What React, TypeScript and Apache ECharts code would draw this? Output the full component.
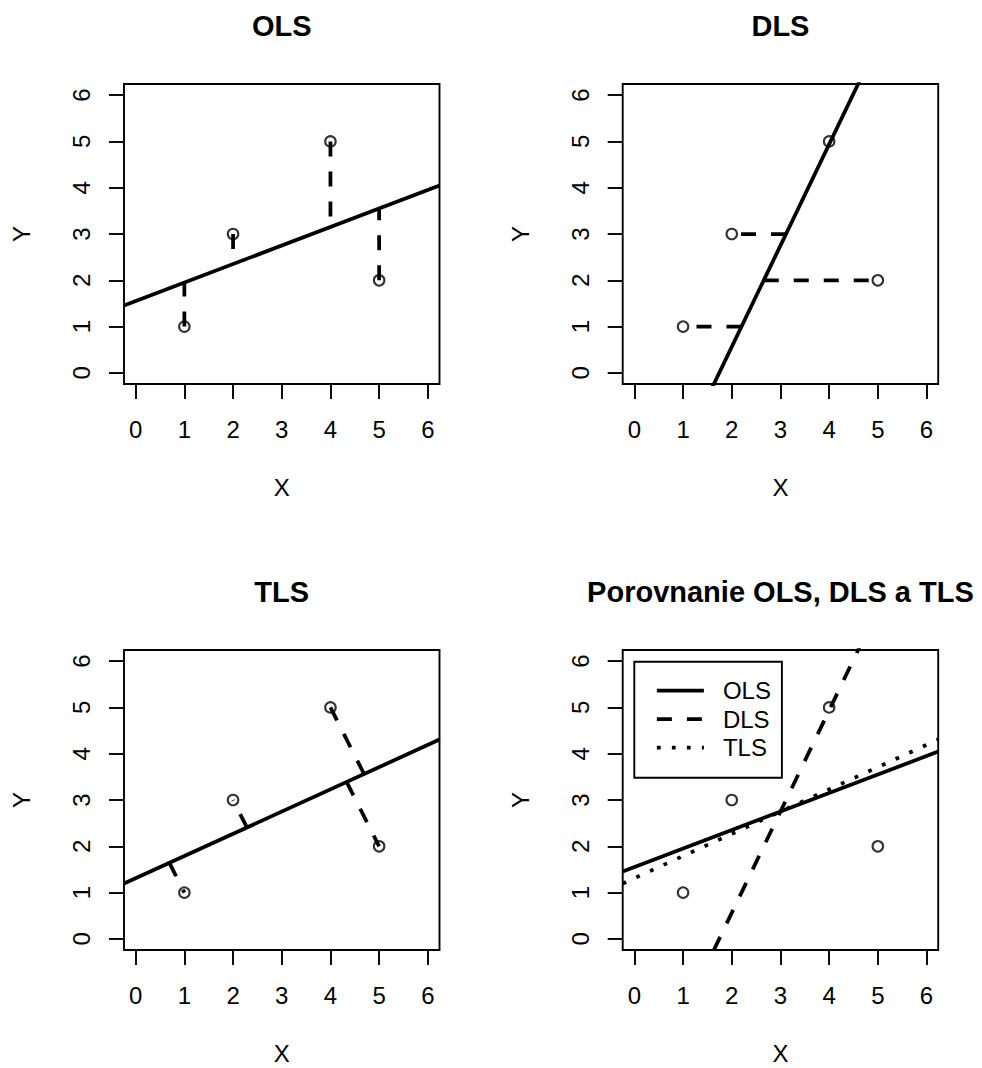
import React, { useEffect, useRef } from 'react';
import * as echarts from 'echarts';

// ---------- data ----------
const pointsX = [1, 2, 4, 5];
const pointsY = [1, 3, 5, 2];
const tickValues = [0, 1, 2, 3, 4, 5, 6];
const axisRange = [-0.24, 6.24];
// [intercept, slope] of each fitted line
const olsCoef = [1.55, 0.4];
const dlsCoef = [-3.8125, 2.1875];
const tlsCoef = [1.31, 0.48];
const panelTitles = ['OLS', 'DLS', 'TLS', 'Porovnanie OLS, DLS a TLS'];
const legendNames = ['OLS', 'DLS', 'TLS'];

// ---------- style ----------
const FONT = '"Liberation Sans", Arial, Helvetica, sans-serif';
const BLACK = '#000';
const LW = 3.75;
const FRAME_W = 1.9;
const DASHED = [15, 15];
const DOTTED = [3.75, 11.25];
const PW = 315.5;
const PH = 300;
const panels = [
  { left: 124, top: 84 },
  { left: 622.7, top: 84 },
  { left: 124, top: 650 },
  { left: 622.7, top: 650 },
];

const lineAt = (coef: number[], x: number) => coef[0] + coef[1] * x;
const fullLine = (coef: number[]) => axisRange.map((x) => [x, lineAt(coef, x)]);

const olsSegments = pointsX.map((x, i) => [
  [x, pointsY[i]],
  [x, lineAt(olsCoef, x)],
]);
const dlsSegments = pointsX.map((x, i) => [
  [(pointsY[i] - dlsCoef[0]) / dlsCoef[1], pointsY[i]],
  [x, pointsY[i]],
]);
const tlsSegments = pointsX.map((x, i) => {
  const [a, b] = tlsCoef;
  const fx = (x + b * (pointsY[i] - a)) / (1 + b * b);
  return [
    [fx, lineAt(tlsCoef, fx)],
    [x, pointsY[i]],
  ];
});

function lineSeries(name: string, gridIndex: number, data: number[][], dash: any) {
  return {
    type: 'line',
    name,
    xAxisIndex: gridIndex,
    yAxisIndex: gridIndex,
    data,
    symbol: 'none',
    showSymbol: false,
    clip: true,
    silent: true,
    itemStyle: { color: BLACK },
    lineStyle: { color: BLACK, width: LW, type: dash, cap: 'butt' },
    emphasis: { disabled: true },
    z: 3,
  };
}

function scatterSeries(gridIndex: number) {
  return {
    type: 'scatter',
    name: 'points' + gridIndex,
    xAxisIndex: gridIndex,
    yAxisIndex: gridIndex,
    data: pointsX.map((x, i) => [x, pointsY[i]]),
    symbol: 'circle',
    symbolSize: 10.5,
    silent: true,
    itemStyle: { color: 'rgba(0,0,0,0)', borderColor: BLACK, borderWidth: 2.1 },
    emphasis: { disabled: true },
    z: 2,
  };
}

export default function App() {
  const ref = useRef<HTMLDivElement>(null);
  useEffect(() => {
    if (!ref.current) return;
    const chart = echarts.init(ref.current, undefined, { renderer: 'svg' });

    const grid = panels.map((p) => ({
      left: p.left,
      top: p.top,
      width: PW,
      height: PH,
      show: true,
      borderColor: BLACK,
      borderWidth: FRAME_W,
      backgroundColor: 'transparent',
      containLabel: false,
    }));

    const xAxis = panels.map((_, i) => ({
      type: 'value',
      gridIndex: i,
      position: 'bottom',
      min: axisRange[0],
      max: axisRange[1],
      axisLine: { show: false, onZero: false },
      axisTick: {
        show: true,
        customValues: tickValues,
        length: 15,
        lineStyle: { color: BLACK, width: FRAME_W },
      },
      axisLabel: {
        customValues: tickValues,
        fontSize: 24,
        fontFamily: FONT,
        color: BLACK,
        margin: 33.7,
      },
      splitLine: { show: false },
      name: 'X',
      nameLocation: 'middle',
      nameGap: 91.6,
      nameTextStyle: { fontSize: 24, fontFamily: FONT, color: BLACK },
    }));

    const yAxis = panels.map((_, i) => ({
      type: 'value',
      gridIndex: i,
      position: 'left',
      min: axisRange[0],
      max: axisRange[1],
      axisLine: { show: false, onZero: false },
      axisTick: {
        show: true,
        customValues: tickValues,
        length: 15,
        lineStyle: { color: BLACK, width: FRAME_W },
      },
      axisLabel: {
        customValues: tickValues,
        fontSize: 24,
        fontFamily: FONT,
        color: BLACK,
        rotate: 90,
        margin: 30.4,
      },
      splitLine: { show: false },
      name: 'Y',
      nameLocation: 'middle',
      nameGap: 90.3,
      nameTextStyle: { fontSize: 24, fontFamily: FONT, color: BLACK },
    }));

    const series: any[] = [
      // panel 1: OLS
      scatterSeries(0),
      lineSeries('ols-fit', 0, fullLine(olsCoef), 'solid'),
      ...olsSegments.map((s, k) => lineSeries('ols-res' + k, 0, s, DASHED)),
      // panel 2: DLS
      scatterSeries(1),
      lineSeries('dls-fit', 1, fullLine(dlsCoef), 'solid'),
      ...dlsSegments.map((s, k) => lineSeries('dls-res' + k, 1, s, DASHED)),
      // panel 3: TLS
      scatterSeries(2),
      lineSeries('tls-fit', 2, fullLine(tlsCoef), 'solid'),
      ...tlsSegments.map((s, k) => lineSeries('tls-res' + k, 2, s, DASHED)),
      // panel 4: comparison
      scatterSeries(3),
      lineSeries(legendNames[0], 3, fullLine(olsCoef), 'solid'),
      lineSeries(legendNames[1], 3, fullLine(dlsCoef), DASHED),
      lineSeries(legendNames[2], 3, fullLine(tlsCoef), DOTTED),
    ];

    const graphic = panels.map((p, i) => ({
      type: 'text',
      x: p.left + PW / 2,
      y: p.top - 58.4,
      silent: true,
      style: {
        text: panelTitles[i],
        fill: BLACK,
        font: 'bold 29px ' + FONT,
        align: 'center',
        textAlign: 'center',
        verticalAlign: 'middle',
        textVerticalAlign: 'middle',
      },
    }));

    chart.setOption({
      animation: false,
      backgroundColor: '#fff',
      grid,
      xAxis,
      yAxis,
      series,
      graphic,
      legend: {
        data: legendNames,
        orient: 'vertical',
        left: 634.3,
        top: 661.7,
        padding: [17, 11, 18, 20.7],
        itemGap: 4.5,
        itemWidth: 47,
        itemHeight: 14,
        borderColor: BLACK,
        borderWidth: FRAME_W,
        borderRadius: 0,
        backgroundColor: '#fff',
        selectedMode: false,
        itemStyle: { opacity: 0, color: 'rgba(0,0,0,0)', borderWidth: 0 },
        lineStyle: { width: LW, color: BLACK },
        textStyle: {
          fontSize: 24,
          fontFamily: FONT,
          color: BLACK,
          padding: [0, 0, 0, 14],
        },
      },
    });

    return () => chart.dispose();
  }, []);

  return (
    <div
      ref={ref}
      style={{ position: 'absolute', left: 0, top: 0, width: 982, height: 1068, background: '#fff' }}
    />
  );
}
